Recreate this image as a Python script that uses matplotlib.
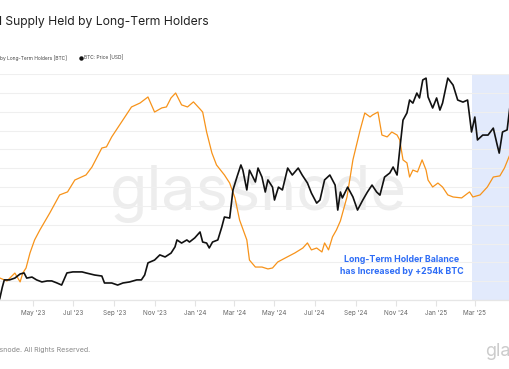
import numpy as np
import matplotlib.pyplot as plt
import matplotlib.dates as mdates
from matplotlib.lines import Line2D

plt.rcParams['font.family'] = ['Inter', 'DejaVu Sans']

# long-term holder supply, million BTC
lth_dates = ['2023-03-11', '2023-03-22', '2023-04-03', '2023-04-11', '2023-04-15', '2023-04-20',
             '2023-04-26', '2023-05-03', '2023-05-11', '2023-05-26', '2023-06-10', '2023-06-22',
             '2023-07-03', '2023-07-20', '2023-07-29', '2023-08-13', '2023-08-20', '2023-08-28',
             '2023-09-17', '2023-09-27', '2023-10-10', '2023-10-22', '2023-11-01', '2023-11-12',
             '2023-11-19', '2023-11-26', '2023-12-03', '2023-12-12', '2023-12-21', '2023-12-30',
             '2024-01-09', '2024-01-13', '2024-01-19', '2024-01-27', '2024-02-03', '2024-02-15',
             '2024-02-23', '2024-03-02', '2024-03-09', '2024-03-20', '2024-03-24', '2024-04-02',
             '2024-04-12', '2024-04-21', '2024-04-28', '2024-05-06', '2024-05-20', '2024-06-01',
             '2024-06-13', '2024-06-20', '2024-06-26', '2024-07-04', '2024-07-12', '2024-07-16',
             '2024-07-22', '2024-07-28', '2024-08-03', '2024-08-09', '2024-08-19', '2024-08-28',
             '2024-09-08', '2024-09-15', '2024-09-23', '2024-09-27', '2024-10-05', '2024-10-11',
             '2024-10-19', '2024-10-26', '2024-11-03', '2024-11-07', '2024-11-12', '2024-11-18',
             '2024-11-22', '2024-11-27', '2024-12-04', '2024-12-11', '2024-12-17', '2024-12-20',
             '2024-12-27', '2025-01-04', '2025-01-11', '2025-01-19', '2025-01-27', '2025-02-09',
             '2025-02-21', '2025-02-26', '2025-03-09', '2025-03-20', '2025-03-29', '2025-04-08',
             '2025-04-15', '2025-04-23', '2025-04-30']
lth_supply = [13.917, 13.901, 13.943, 13.896, 13.943, 13.970,
              14.050, 14.119, 14.172, 14.262, 14.358, 14.374,
              14.437, 14.464, 14.506, 14.607, 14.613, 14.666,
              14.772, 14.825, 14.846, 14.878, 14.798, 14.820,
              14.825, 14.873, 14.899, 14.836, 14.825, 14.852,
              14.814, 14.798, 14.692, 14.581, 14.517, 14.464,
              14.421, 14.342, 14.225, 14.119, 14.012, 13.975,
              13.975, 13.965, 13.970, 14.002, 14.028, 14.050,
              14.076, 14.103, 14.066, 14.076, 14.055, 14.103,
              14.066, 14.135, 14.172, 14.220, 14.347, 14.544,
              14.703, 14.793, 14.772, 14.783, 14.798, 14.676,
              14.666, 14.692, 14.676, 14.650, 14.544, 14.528,
              14.453, 14.490, 14.480, 14.544, 14.490, 14.437,
              14.400, 14.421, 14.400, 14.358, 14.347, 14.342,
              14.374, 14.347, 14.358, 14.400, 14.453, 14.459,
              14.501, 14.570, 14.610]

# BTC price, USD
price_dates = ['2023-03-09', '2023-03-11', '2023-03-15', '2023-03-18', '2023-03-26', '2023-04-03',
               '2023-04-11', '2023-04-17', '2023-04-21', '2023-04-29', '2023-05-06', '2023-05-14',
               '2023-05-22', '2023-05-29', '2023-06-06', '2023-06-13', '2023-06-21', '2023-06-30',
               '2023-07-14', '2023-07-20', '2023-08-02', '2023-08-13', '2023-08-17', '2023-08-28',
               '2023-09-06', '2023-09-14', '2023-09-24', '2023-10-05', '2023-10-12', '2023-10-17',
               '2023-10-22', '2023-11-01', '2023-11-09', '2023-11-17', '2023-11-26', '2023-12-02',
               '2023-12-05', '2023-12-12', '2023-12-20', '2023-12-24', '2024-01-01', '2024-01-09',
               '2024-01-13', '2024-01-19', '2024-01-23', '2024-01-28', '2024-02-05', '2024-02-11',
               '2024-02-15', '2024-02-23', '2024-02-28', '2024-03-05', '2024-03-11', '2024-03-14',
               '2024-03-20', '2024-03-24', '2024-04-02', '2024-04-06', '2024-04-12', '2024-04-17',
               '2024-04-21', '2024-04-28', '2024-05-01', '2024-05-07', '2024-05-13', '2024-05-21',
               '2024-05-28', '2024-06-06', '2024-06-12', '2024-06-20', '2024-06-26', '2024-07-04',
               '2024-07-09', '2024-07-16', '2024-07-24', '2024-08-01', '2024-08-05', '2024-08-09',
               '2024-08-12', '2024-08-20', '2024-08-28', '2024-09-04', '2024-09-12', '2024-09-19',
               '2024-09-26', '2024-10-03', '2024-10-08', '2024-10-15', '2024-10-23', '2024-10-28',
               '2024-11-03', '2024-11-07', '2024-11-12', '2024-11-18', '2024-11-22', '2024-11-27',
               '2024-12-03', '2024-12-07', '2024-12-12', '2024-12-17', '2024-12-20', '2024-12-27',
               '2025-01-02', '2025-01-07', '2025-01-11', '2025-01-19', '2025-01-27', '2025-02-03',
               '2025-02-11', '2025-02-18', '2025-02-24', '2025-03-01', '2025-03-05', '2025-03-13',
               '2025-03-21', '2025-03-29', '2025-04-04', '2025-04-07', '2025-04-12', '2025-04-19',
               '2025-04-23', '2025-04-30']
price_usd = [20000, 20400, 25000, 27800, 27800, 28500,
             30100, 30500, 28500, 28900, 27800, 27000,
             27400, 27400, 26600, 25800, 30500, 30900,
             30900, 30500, 29700, 29300, 26600, 26600,
             25800, 26600, 27000, 27800, 27800, 29700,
             34400, 35500, 37500, 36700, 38200, 40600,
             43300, 42100, 43300, 42500, 44100, 46400,
             42500, 42100, 40200, 42500, 43300, 48300,
             52200, 51800, 62700, 67700, 72400, 70400,
             62700, 70400, 65800, 71200, 67700, 61900,
             66600, 63800, 58800, 63800, 62700, 71200,
             68500, 71200, 68500, 65400, 61500, 57600,
             58800, 66600, 68500, 64600, 54900, 61900,
             59600, 63800, 60000, 54900, 58800, 61900,
             64600, 61900, 60700, 67700, 69300, 71600,
             68500, 78200, 89800, 92600, 97600, 96400,
             100300, 98400, 105400, 106100, 98800, 94500,
             98400, 93700, 96400, 106100, 103400, 97600,
             96800, 97600, 85200, 91000, 82100, 84000,
             84000, 86700, 80100, 77000, 85200, 86000,
             94500, 94500]

month_ticks = ['2023-05-01', '2023-07-01', '2023-09-01', '2023-11-01', '2024-01-01', '2024-03-01',
               '2024-05-01', '2024-07-01', '2024-09-01', '2024-11-01', '2025-01-01', '2025-03-01']
month_labels = ["May '23", "Jul '23", "Sep '23", "Nov '23", "Jan '24", "Mar '24",
                "May '24", "Jul '24", "Sep '24", "Nov '24", "Jan '25", "Mar '25"]

highlight_start = '2025-02-24'

W, H = 510, 369
fig = plt.figure(figsize=(W / 100, H / 100), dpi=100)
fig.patch.set_facecolor('white')

ax = fig.add_axes([0, (H - 300) / H, 1, 226 / H])
ax2 = ax.twinx()

ax.plot(np.array(lth_dates, dtype='datetime64[D]'), lth_supply, color='#f7931a', lw=0.9, zorder=3)
ax2.plot(np.array(price_dates, dtype='datetime64[D]'), price_usd, color='#111111', lw=1.2, zorder=3)

may1 = mdates.datestr2num('2023-05-01')
px_day = 0.659
x_right = may1 + (W - 33.3) / px_day
ax.set_xlim(may1 - 33.3 / px_day, x_right)
ax.axvspan(mdates.datestr2num(highlight_start), x_right + 30, color='#e2eafc', lw=0, zorder=0)

ax.set_ylim(13.8, 15.0)
ax.set_yticks(np.arange(13.8, 15.01, 0.1))
ax.yaxis.grid(True, color='#efefef', lw=0.8)
ax.set_axisbelow(True)
ax.tick_params(axis='y', length=0, labelleft=False)
ax2.set_ylim(20000, 107700)
ax2.tick_params(axis='y', length=0, labelright=False)

ax.set_xticks([mdates.datestr2num(d) for d in month_ticks], month_labels)
ax.tick_params(axis='x', length=4, color='#e3e3e3', labelsize=4.6, labelcolor='#666666', pad=3)

for a in (ax, ax2):
    for s in ['top', 'left', 'right']:
        a.spines[s].set_visible(False)
    a.spines['bottom'].set_color('#e6e6e6')
    a.spines['bottom'].set_linewidth(0.8)

# watermark
ax.text(110 / W, 1 - 210 / H, 'glassnode', transform=fig.transFigure, fontsize=44,
        color='#ededed', ha='left', va='baseline', zorder=0.5)

fig.text(209 / W, 1 - 22 / H, 'Total Supply Held by Long-Term Holders', ha='right', va='center',
         fontsize=8.75, color='#222222')
fig.text(67 / W, 1 - 58 / H, 'Total Supply Held by Long-Term Holders [BTC]', ha='right', va='center',
         fontsize=3.5, color='#444444')
fig.add_artist(Line2D([81 / W], [1 - 58 / H], marker='o', ms=2.2, color='#111111',
                      transform=fig.transFigure))
fig.text(84.5 / W, 1 - 58 / H, 'BTC: Price [USD]', ha='left', va='center', fontsize=3.5, color='#444444')

fig.text(402 / W, 1 - 265.5 / H, 'Long-Term Holder Balance\nhas Increased by +254k BTC',
         ha='center', va='center', fontsize=6.3, fontweight='bold', color='#2d6cf6', linespacing=1.3)

fig.text(90 / W, 1 - 350 / H, '\u00a9 2025 Glassnode. All Rights Reserved.', ha='right', va='center',
         fontsize=5.1, color='#8a8a8a')
fig.text(485 / W, 1 - 352 / H, 'glassnode', ha='left', va='center', fontsize=13, color='#cccccc')

fig.savefig('out.png', dpi=100)
